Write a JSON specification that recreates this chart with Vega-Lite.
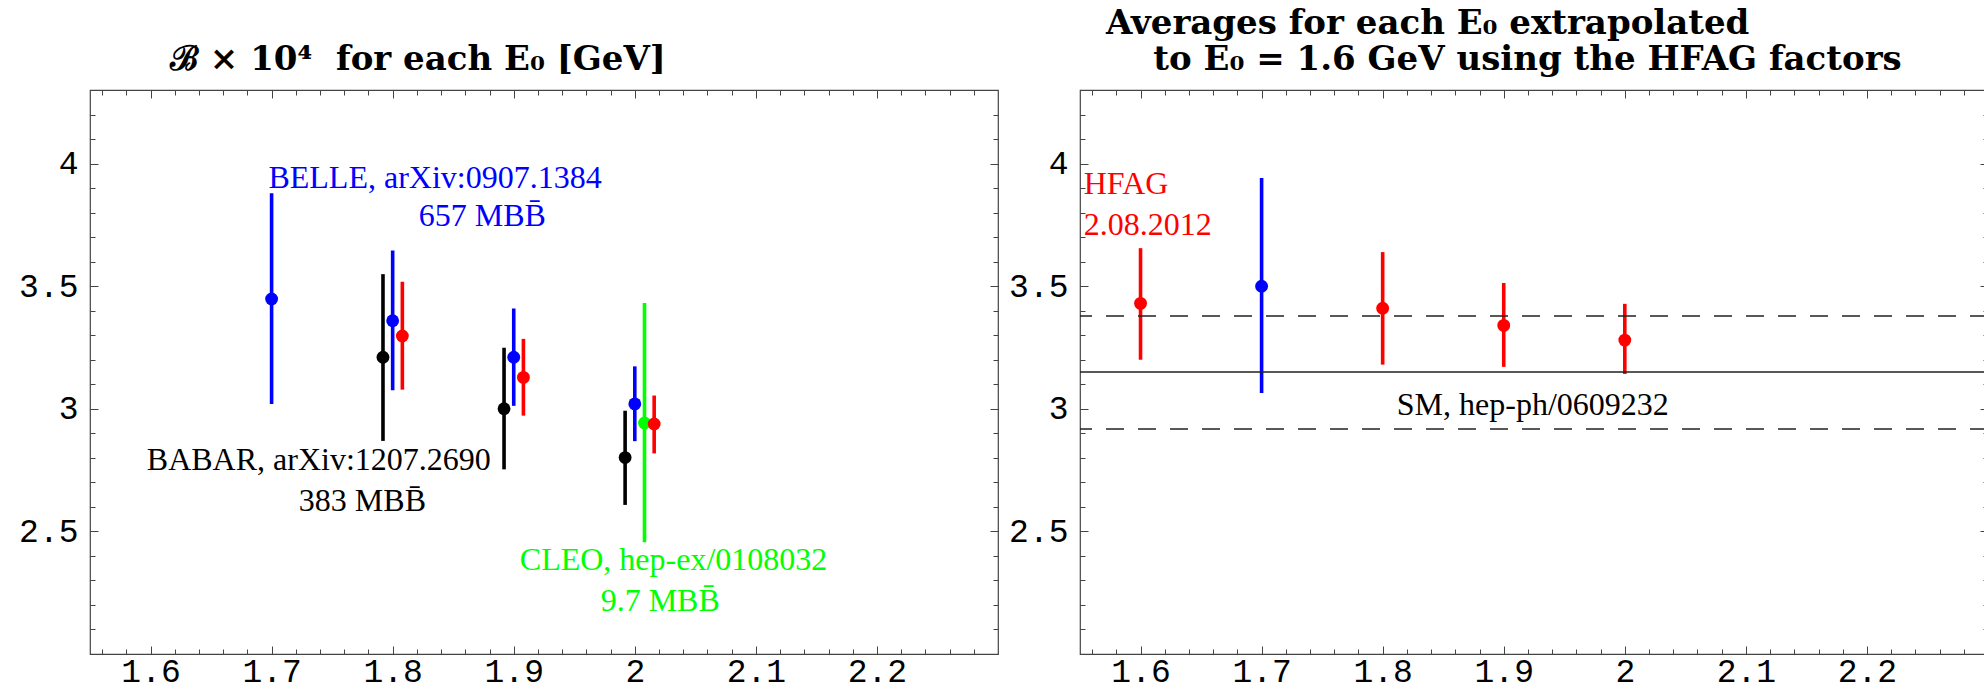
{
  "$schema": "https://vega.github.io/schema/vega-lite/v6.json",
  "background": "white",
  "padding": {"left": 17, "top": 5, "right": 0, "bottom": 2},
  "bounds": "flush",
  "spacing": 82,
  "config": {
    "view": {"stroke": "#444", "strokeWidth": 1.2},
    "axis": {"grid": false, "domain": false, "title": null, "labelFont": "Liberation Mono", "labelFontSize": 33, "labelColor": "#000", "tickColor": "#444", "tickWidth": 1}
  },
  "datasets": {
    "leftBars": [
      {"exp": "BELLE", "x": 1.7, "y": 3.448, "lo": 3.02, "hi": 3.879},
      {"exp": "BELLE", "x": 1.8, "y": 3.359, "lo": 3.076, "hi": 3.645},
      {"exp": "BELLE", "x": 1.9, "y": 3.21, "lo": 3.012, "hi": 3.409},
      {"exp": "BELLE", "x": 2.0, "y": 3.02, "lo": 2.868, "hi": 3.173},
      {"exp": "BABAR", "x": 1.792, "y": 3.21, "lo": 2.869, "hi": 3.549},
      {"exp": "BABAR", "x": 1.892, "y": 3.0, "lo": 2.753, "hi": 3.249},
      {"exp": "BABAR", "x": 1.992, "y": 2.801, "lo": 2.608, "hi": 2.992},
      {"exp": "CLEO", "x": 2.008, "y": 2.942, "lo": 2.456, "hi": 3.431},
      {"exp": "HFAG", "x": 1.808, "y": 3.297, "lo": 3.078, "hi": 3.518},
      {"exp": "HFAG", "x": 1.908, "y": 3.128, "lo": 2.972, "hi": 3.285},
      {"exp": "HFAG", "x": 2.016, "y": 2.938, "lo": 2.818, "hi": 3.054}
    ],
    "leftLabels": [
      {"exp": "BELLE", "line": 1, "x": 1.835, "y": 3.94, "text": "BELLE, arXiv:0907.1384"},
      {"exp": "BELLE", "line": 2, "x": 1.874, "y": 3.785, "text": "657 MBB̄"},
      {"exp": "BABAR", "line": 1, "x": 1.739, "y": 2.793, "text": "BABAR, arXiv:1207.2690"},
      {"exp": "BABAR", "line": 2, "x": 1.775, "y": 2.622, "text": "383 MBB̄"},
      {"exp": "CLEO", "line": 1, "x": 2.032, "y": 2.384, "text": "CLEO, hep-ex/0108032"},
      {"exp": "CLEO", "line": 2, "x": 2.021, "y": 2.218, "text": "9.7 MBB̄"}
    ],
    "rightBars": [
      {"exp": "HFAG", "x": 1.6, "y": 3.43, "lo": 3.20, "hi": 3.655},
      {"exp": "BELLE", "x": 1.7, "y": 3.50, "lo": 3.064, "hi": 3.941},
      {"exp": "HFAG", "x": 1.8, "y": 3.41, "lo": 3.18, "hi": 3.639},
      {"exp": "HFAG", "x": 1.9, "y": 3.34, "lo": 3.171, "hi": 3.513},
      {"exp": "HFAG", "x": 2.0, "y": 3.28, "lo": 3.142, "hi": 3.428}
    ],
    "rightLines": [
      {"kind": "bound", "y": 3.378},
      {"kind": "central", "y": 3.15},
      {"kind": "bound", "y": 2.918}
    ],
    "rightHfag": [
      {"exp": "HFAG", "x": 1.553, "y": 3.915, "text": "HFAG"},
      {"exp": "HFAG", "x": 1.553, "y": 3.75, "text": "2.08.2012"}
    ],
    "rightSm": [
      {"exp": "SM", "x": 1.924, "y": 3.015, "text": "SM, hep-ph/0609232"}
    ]
  },
  "hconcat": [
    {
      "width": 908,
      "height": 564,
      "title": {"text": "ℬ × 10⁴\u00a0 for each E₀ [GeV]", "anchor": "start", "frame": "group", "dx": 80, "font": "DejaVu Serif", "fontSize": 34, "fontWeight": "bold", "offset": 13, "color": "#000"},
      "layer": [
        {
          "data": {"name": "leftBars"},
          "mark": {"type": "rule", "strokeWidth": 3.6},
          "encoding": {
            "x": {"field": "x", "type": "quantitative", "scale": {"domain": [1.55, 2.3], "nice": false, "zero": false},
                  "axis": {"orient": "bottom", "values": [1.6, 1.7, 1.8, 1.9, 2.0, 2.1, 2.2], "format": "~g", "tickSize": -8, "labelPadding": 9}},
            "y": {"field": "lo", "type": "quantitative", "scale": {"domain": [2.0, 4.3], "nice": false, "zero": false},
                  "axis": {"orient": "left", "values": [2.5, 3, 3.5, 4], "format": "~g", "tickSize": -8, "labelPadding": 20}},
            "y2": {"field": "hi"},
            "color": {"field": "exp", "type": "nominal", "legend": null,
                      "scale": {"domain": ["BELLE", "BABAR", "CLEO", "HFAG", "SM"], "range": ["#0000ff", "#000000", "#00ff00", "#ff0000", "#000000"]}}
          }
        },
        {
          "data": {"name": "leftBars"},
          "mark": {"type": "circle", "size": 165, "opacity": 1},
          "encoding": {
            "x": {"field": "x", "type": "quantitative", "scale": {"domain": [1.55, 2.3], "nice": false, "zero": false},
                  "axis": {"orient": "bottom", "values": [1.56,1.58,1.6,1.62,1.64,1.66,1.68,1.7,1.72,1.74,1.76,1.78,1.8,1.82,1.84,1.86,1.88,1.9,1.92,1.94,1.96,1.98,2.0,2.02,2.04,2.06,2.08,2.1,2.12,2.14,2.16,2.18,2.2,2.22,2.24,2.26,2.28], "labels": false, "tickSize": -5}},
            "y": {"field": "y", "type": "quantitative", "scale": {"domain": [2.0, 4.3], "nice": false, "zero": false},
                  "axis": {"orient": "left", "values": [2.1,2.2,2.3,2.4,2.5,2.6,2.7,2.8,2.9,3.0,3.1,3.2,3.3,3.4,3.5,3.6,3.7,3.8,3.9,4.0,4.1,4.2], "labels": false, "tickSize": -5}},
            "color": {"field": "exp", "type": "nominal", "legend": null}
          }
        },
        {
          "data": {"name": "leftLabels"},
          "transform": [{"filter": "datum.line == 1"}],
          "mark": {"type": "text", "font": "Liberation Serif", "fontSize": 32, "align": "center", "baseline": "middle"},
          "encoding": {
            "x": {"field": "x", "type": "quantitative", "scale": {"domain": [1.55, 2.3], "nice": false, "zero": false},
                  "axis": {"orient": "top", "values": [1.6, 1.7, 1.8, 1.9, 2.0, 2.1, 2.2], "labels": false, "tickSize": -8}},
            "y": {"field": "y", "type": "quantitative", "scale": {"domain": [2.0, 4.3], "nice": false, "zero": false},
                  "axis": {"orient": "right", "values": [2.5, 3, 3.5, 4], "labels": false, "tickSize": -8}},
            "text": {"field": "text"},
            "color": {"field": "exp", "type": "nominal", "legend": null}
          }
        },
        {
          "data": {"name": "leftLabels"},
          "transform": [{"filter": "datum.line == 2"}],
          "mark": {"type": "text", "font": "Liberation Serif", "fontSize": 32, "align": "center", "baseline": "middle"},
          "encoding": {
            "x": {"field": "x", "type": "quantitative", "scale": {"domain": [1.55, 2.3], "nice": false, "zero": false},
                  "axis": {"orient": "top", "values": [1.56,1.58,1.6,1.62,1.64,1.66,1.68,1.7,1.72,1.74,1.76,1.78,1.8,1.82,1.84,1.86,1.88,1.9,1.92,1.94,1.96,1.98,2.0,2.02,2.04,2.06,2.08,2.1,2.12,2.14,2.16,2.18,2.2,2.22,2.24,2.26,2.28], "labels": false, "tickSize": -5}},
            "y": {"field": "y", "type": "quantitative", "scale": {"domain": [2.0, 4.3], "nice": false, "zero": false},
                  "axis": {"orient": "right", "values": [2.1,2.2,2.3,2.4,2.5,2.6,2.7,2.8,2.9,3.0,3.1,3.2,3.3,3.4,3.5,3.6,3.7,3.8,3.9,4.0,4.1,4.2], "labels": false, "tickSize": -5}},
            "text": {"field": "text"},
            "color": {"field": "exp", "type": "nominal", "legend": null}
          }
        }
      ],
      "resolve": {"axis": {"x": "independent", "y": "independent"}}
    },
    {
      "width": 908,
      "height": 564,
      "title": {"text": ["Averages for each E₀ extrapolated", "\u200b\u00a0\u00a0\u00a0\u00a0to E₀ = 1.6 GeV using the HFAG factors"], "anchor": "start", "frame": "group", "dx": 26, "font": "DejaVu Serif", "fontSize": 34, "fontWeight": "bold", "lineHeight": 36, "offset": 13, "color": "#000"},
      "layer": [
        {
          "data": {"name": "rightBars"},
          "mark": {"type": "rule", "strokeWidth": 3.6},
          "encoding": {
            "x": {"field": "x", "type": "quantitative", "scale": {"domain": [1.55, 2.3], "nice": false, "zero": false},
                  "axis": {"orient": "bottom", "values": [1.6, 1.7, 1.8, 1.9, 2.0, 2.1, 2.2], "format": "~g", "tickSize": -8, "labelPadding": 9}},
            "y": {"field": "lo", "type": "quantitative", "scale": {"domain": [2.0, 4.3], "nice": false, "zero": false},
                  "axis": {"orient": "left", "values": [2.5, 3, 3.5, 4], "format": "~g", "tickSize": -8, "labelPadding": 20}},
            "y2": {"field": "hi"},
            "color": {"field": "exp", "type": "nominal", "legend": null,
                      "scale": {"domain": ["BELLE", "BABAR", "CLEO", "HFAG", "SM"], "range": ["#0000ff", "#000000", "#00ff00", "#ff0000", "#000000"]}}
          }
        },
        {
          "data": {"name": "rightBars"},
          "mark": {"type": "circle", "size": 165, "opacity": 1},
          "encoding": {
            "x": {"field": "x", "type": "quantitative", "scale": {"domain": [1.55, 2.3], "nice": false, "zero": false},
                  "axis": {"orient": "bottom", "values": [1.56,1.58,1.6,1.62,1.64,1.66,1.68,1.7,1.72,1.74,1.76,1.78,1.8,1.82,1.84,1.86,1.88,1.9,1.92,1.94,1.96,1.98,2.0,2.02,2.04,2.06,2.08,2.1,2.12,2.14,2.16,2.18,2.2,2.22,2.24,2.26,2.28], "labels": false, "tickSize": -5}},
            "y": {"field": "y", "type": "quantitative", "scale": {"domain": [2.0, 4.3], "nice": false, "zero": false},
                  "axis": {"orient": "left", "values": [2.1,2.2,2.3,2.4,2.5,2.6,2.7,2.8,2.9,3.0,3.1,3.2,3.3,3.4,3.5,3.6,3.7,3.8,3.9,4.0,4.1,4.2], "labels": false, "tickSize": -5}},
            "color": {"field": "exp", "type": "nominal", "legend": null}
          }
        },
        {
          "data": {"name": "rightLines"},
          "mark": {"type": "rule", "strokeWidth": 1.5, "color": "#222"},
          "encoding": {
            "y": {"field": "y", "type": "quantitative", "scale": {"domain": [2.0, 4.3], "nice": false, "zero": false}, "axis": null},
            "strokeDash": {"field": "kind", "type": "nominal", "legend": null,
                           "scale": {"domain": ["bound", "central"], "range": [[18, 14], [1, 0]]}}
          }
        },
        {
          "data": {"name": "rightHfag"},
          "mark": {"type": "text", "font": "Liberation Serif", "fontSize": 32, "align": "left", "baseline": "middle"},
          "encoding": {
            "x": {"field": "x", "type": "quantitative", "scale": {"domain": [1.55, 2.3], "nice": false, "zero": false},
                  "axis": {"orient": "top", "values": [1.6, 1.7, 1.8, 1.9, 2.0, 2.1, 2.2], "labels": false, "tickSize": -8}},
            "y": {"field": "y", "type": "quantitative", "scale": {"domain": [2.0, 4.3], "nice": false, "zero": false},
                  "axis": {"orient": "right", "values": [2.5, 3, 3.5, 4], "labels": false, "tickSize": -8}},
            "text": {"field": "text"},
            "color": {"field": "exp", "type": "nominal", "legend": null}
          }
        },
        {
          "data": {"name": "rightSm"},
          "mark": {"type": "text", "font": "Liberation Serif", "fontSize": 32, "align": "center", "baseline": "middle"},
          "encoding": {
            "x": {"field": "x", "type": "quantitative", "scale": {"domain": [1.55, 2.3], "nice": false, "zero": false},
                  "axis": {"orient": "top", "values": [1.56,1.58,1.6,1.62,1.64,1.66,1.68,1.7,1.72,1.74,1.76,1.78,1.8,1.82,1.84,1.86,1.88,1.9,1.92,1.94,1.96,1.98,2.0,2.02,2.04,2.06,2.08,2.1,2.12,2.14,2.16,2.18,2.2,2.22,2.24,2.26,2.28], "labels": false, "tickSize": -5}},
            "y": {"field": "y", "type": "quantitative", "scale": {"domain": [2.0, 4.3], "nice": false, "zero": false},
                  "axis": {"orient": "right", "values": [2.1,2.2,2.3,2.4,2.5,2.6,2.7,2.8,2.9,3.0,3.1,3.2,3.3,3.4,3.5,3.6,3.7,3.8,3.9,4.0,4.1,4.2], "labels": false, "tickSize": -5}},
            "text": {"field": "text"},
            "color": {"field": "exp", "type": "nominal", "legend": null}
          }
        }
      ],
      "resolve": {"axis": {"x": "independent", "y": "independent"}}
    }
  ]
}
